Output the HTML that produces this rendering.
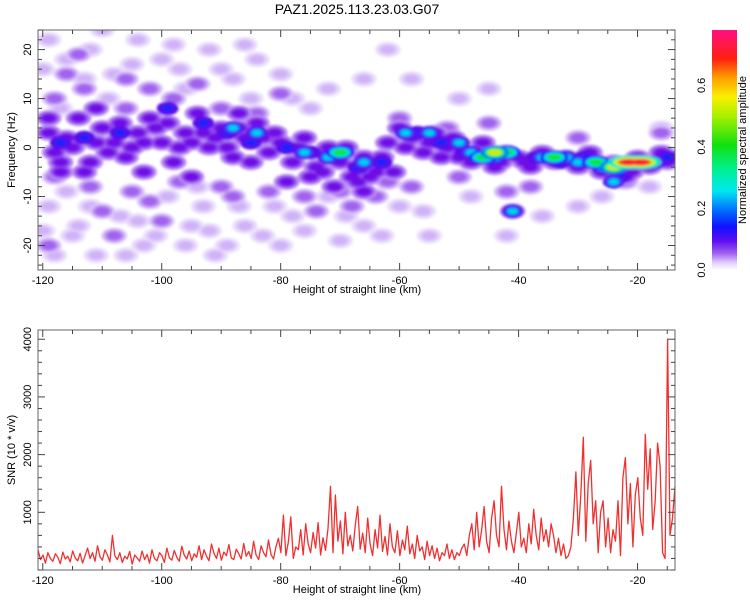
<!DOCTYPE html>
<html><head><meta charset="utf-8"><style>
body{margin:0;background:#fff;}
svg{display:block;font-family:"Liberation Sans",sans-serif;}
</style></head><body>
<svg id="chart" width="750" height="600" viewBox="0 0 750 600">
<defs>
<linearGradient id="cbgrad" x1="0" y1="1" x2="0" y2="0">
<stop offset="0" stop-color="#ffffff"/><stop offset="0.03" stop-color="#e2d0fb"/><stop offset="0.07" stop-color="#a060f0"/>
<stop offset="0.12" stop-color="#6010f0"/><stop offset="0.18" stop-color="#1010ff"/><stop offset="0.25" stop-color="#0070ff"/>
<stop offset="0.33" stop-color="#00e8f0"/><stop offset="0.42" stop-color="#00f090"/><stop offset="0.52" stop-color="#10e010"/>
<stop offset="0.64" stop-color="#a8f000"/><stop offset="0.72" stop-color="#f8f000"/><stop offset="0.8" stop-color="#ffa000"/>
<stop offset="0.88" stop-color="#ff2010"/><stop offset="1" stop-color="#ff1080"/>
</linearGradient>
<clipPath id="clipTop"><rect x="38" y="30" width="637" height="240"/></clipPath>
<clipPath id="clipBot"><rect x="38" y="330" width="637" height="240"/></clipPath>
<filter id="soft"><feGaussianBlur stdDeviation="1.2"/></filter>
</defs>
<text x="357" y="14" font-size="14" text-anchor="middle">PAZ1.2025.113.23.03.G07</text>
<g id="heat" clip-path="url(#clipTop)" filter="url(#soft)"></g>
<g id="topAxes"></g>
<g id="snrG" clip-path="url(#clipBot)"></g>
<g id="botAxes"></g>
<rect x="712" y="30" width="25" height="240" fill="url(#cbgrad)"/>
<g id="cbAxis"></g>
<text transform="translate(746,150) rotate(-90)" font-size="11" text-anchor="middle">Normalized spectral amplitude</text>
<text transform="translate(15,150) rotate(-90)" font-size="11" text-anchor="middle">Frequency (Hz)</text>
<text x="357" y="293" font-size="11" text-anchor="middle">Height of straight line (km)</text>
<text transform="translate(15,450) rotate(-90)" font-size="11" text-anchor="middle">SNR (10 * v/v)</text>
<text x="357" y="593" font-size="11" text-anchor="middle">Height of straight line (km)</text>
</svg>
<script>
const xTicks=[-120,-100,-80,-60,-40,-20];
const freqTicks=[-20,-10,0,10,20];
const snrTicks=[1000,2000,3000,4000];
const cbTicks=[0.0,0.2,0.4,0.6];
const faintBlobs=[[-119,22],[-116,18],[-112,20],[-108,15],[-104,22],[-100,18],[-96,12],[-92,20],[-88,14],[-84,18],[-78,10],[-72,12],[-66,14],[-62,20],[-58,14],[-119,-12],[-115,-18],[-111,-22],[-107,-14],[-103,-20],[-99,-10],[-95,-16],[-91,-22],[-87,-12],[-83,-18],[-78,-14],[-72,-10],[-66,-16],[-60,-12],[-55,-18],[-42,-18],[-30,-12],[-50,10],[-45,12],[-117,8],[-114,-16],[-109,10],[-101,-18],[-97,16],[-93,-12],[-89,-20],[-85,10],[-81,-12],[-75,8],[-69,-14],[-63,-18],[-118,-22],[-106,-22],[-94,-8],[-113,14],[-120,16],[-110,24],[-105,17],[-98,21],[-90,16],[-86,21],[-80,15],[-120,-17],[-116,-9],[-112,-12],[-104,-15],[-96,-20],[-92,-17],[-86,-16],[-80,-20],[-76,-17],[-70,-19],[-56,-13],[-48,-10],[-36,-14],[-26,-10],[-18,-8],[-16,4]];
const faintAmp=0.03;
const mediumBlobs=[[-118,10],[-113,12],[-106,8],[-98,10],[-90,8],[-84,7],[-118,-6],[-112,-8],[-105,-9],[-97,-7],[-90,-8],[-82,-9],[-76,-10],[-70,-9],[-64,-10],[-58,-8],[-50,-6],[-45,5],[-38,-8],[-30,2],[-22,-7],[-110,-13],[-100,-15],[-116,15],[-108,-18],[-102,12],[-94,13],[-80,11],[-74,-13],[-60,6],[-52,4],[-42,-9],[-16,3],[-114,19],[-106,14],[-119,-20],[-102,-11],[-88,-10],[-68,-12],[-62,-7]];
const mediumAmp=0.055;
const ridgeBlobs=[[-119,3],[-118,-1],[-116,2],[-114,6],[-112,-3],[-110,4],[-108,1],[-106,-2],[-104,3],[-102,6],[-100,1],[-98,-3],[-96,3],[-94,7],[-92,0],[-90,4],[-88,-2],[-86,2],[-84,5],[-82,-1],[-80,1],[-78,-3],[-76,2],[-74,-4],[-72,0],[-70,-3],[-68,-6],[-66,-2],[-64,-5],[-62,1],[-60,4],[-58,2],[-56,-1],[-54,3],[-52,0],[-50,-2],[-48,-3],[-46,1],[-44,-4],[-42,-1],[-40,-2],[-38,-4],[-36,-1],[-34,-3],[-32,-2],[-30,-4],[-28,-1],[-26,-5],[-24,-3],[-22,-6],[-20,-2],[-18,-4],[-16,-1],[-14,-2],[-41,-13],[-117,-5],[-111,8],[-103,-5],[-95,-6],[-87,7],[-79,-7],[-71,-8],[-66,-9],[-115,0],[-109,-1],[-101,4],[-91,2],[-83,2],[-73,-5],[-65,-6],[-119,6],[-113,-5],[-107,5],[-105,0],[-99,5],[-97,0],[-93,3],[-89,0],[-85,-3],[-81,3],[-77,0],[-75,-6],[-69,0],[-67,-7],[-63,-2],[-61,-5],[-59,0],[-55,1],[-53,-2],[-51,2],[-47,-1],[-43,-3],[-39,-3],[-35,-2],[-31,-3],[-27,-3],[-23,-4],[-21,-5],[-19,-3],[-15,-3],[-117,-3],[-111,1],[-103,1],[-95,1],[-87,4]];
const ridgeAmp=0.09;
const blueBlobs=[[-117,1],[-113,2],[-107,3],[-99,8],[-93,5],[-89,3],[-85,1],[-79,0],[-75,-1],[-71,-2],[-67,-4],[-63,-3],[-57,3],[-53,1],[-49,-1],[-45,-2],[-41,-13],[-37,-2],[-33,-3],[-29,-2],[-25,-4],[-23,-6],[-17,-3],[-15,-2]];
const blueAmp=0.15;
const cyanBlobs=[[-88,4],[-84,3],[-76,-1],[-72,-2],[-66,-3],[-59,3],[-55,3],[-50,1],[-44,-2],[-36,-2],[-30,-3],[-26,-4],[-24,-7],[-41,-13],[-48,-1],[-32,-2]];
const cyanAmp=0.25;
const greenBlobs=[[-70,-1],[-42,-1],[-34,-2],[-27,-3],[-46,-2]];
const greenAmp=0.38;
const yellowBlobs=[[-44,-1],[-24,-4]];
const yellowAmp=0.5;
const redBlobs=[[-21.5,-3],[-19.5,-3]];
const redAmp=0.72;
const snr=[350,180,260,120,300,200,150,280,220,110,310,190,240,140,330,210,160,290,120,250,
380,200,300,150,420,230,170,350,260,140,600,250,180,300,130,240,190,320,100,260,
210,150,330,180,270,120,350,200,160,300,250,130,380,210,170,340,220,150,410,260,
190,330,160,280,220,420,180,350,240,160,450,290,200,380,170,310,250,440,210,180,
360,280,190,460,240,320,200,500,260,180,420,300,230,520,270,190,400,
550,300,950,250,480,920,200,400,350,700,260,800,450,300,650,380,820,260,560,340,
720,1450,300,1300,500,850,280,1000,420,600,330,780,1100,360,640,300,900,450,250,700,
380,950,320,580,260,800,400,300,680,250,520,350,760,280,450,200,600,330,400,180,
500,250,420,200,380,160,300,250,450,200,350,180,300,250,380,
450,250,600,800,350,1000,400,700,1100,500,300,900,1200,600,400,1450,700,350,850,500,
300,650,1000,400,550,300,800,450,1050,600,350,900,500,700,400,800,600,300,550,250,450,200,
250,400,900,1700,600,1300,2300,500,1500,1900,800,1200,300,1000,1200,400,900,300,700,500,
1200,250,1600,1950,800,1500,400,1300,1600,900,600,2350,1400,2100,700,1200,2200,1800,300,200,
4000,600,900,1450];
const xDomain=[-120.8,-13.7];

const NS='http://www.w3.org/2000/svg';
const PL=38,PR=675;
const X=v=>PL+(v-xDomain[0])/(xDomain[1]-xDomain[0])*(PR-PL);
const YF=v=>30+(24-v)/49*240;
const YS=v=>570-v/4160*240;
const YC=v=>270-v/0.78*240;
function mk(tag,attrs,parent){const e=document.createElementNS(NS,tag);for(const k in attrs)e.setAttribute(k,attrs[k]);parent.appendChild(e);return e;}
const cstops=[[0,[255,255,255]],[0.02,[228,212,251]],[0.05,[168,110,240]],[0.09,[112,16,230]],[0.14,[30,16,250]],[0.19,[0,100,255]],[0.26,[0,225,235]],[0.33,[0,240,144]],[0.4,[16,224,16]],[0.5,[200,240,0]],[0.56,[248,240,0]],[0.62,[255,160,0]],[0.69,[255,32,16]],[0.78,[255,16,128]]];
function cmap(v){for(let i=1;i<cstops.length;i++){if(v<=cstops[i][0]){const a=cstops[i-1],b=cstops[i];const t=(v-a[0])/(b[0]-a[0]);const c=a[1].map((q,j)=>Math.round(q+(b[1][j]-q)*t));return 'rgb('+c.join(',')+')';}}return 'rgb(255,16,128)';}
const heat=document.getElementById('heat');
const groups=[[faintBlobs,faintAmp],[mediumBlobs,mediumAmp],[ridgeBlobs,ridgeAmp],[blueBlobs,blueAmp],[cyanBlobs,cyanAmp],[greenBlobs,greenAmp],[yellowBlobs,yellowAmp],[redBlobs,redAmp]];
groups.forEach(([blobs,amp])=>{
  const bright=amp>0.12;
  const layers=bright?[[Math.max(amp*0.4,0.1),11,7],[amp*0.7,8,5],[amp,5.5,3.2]]:[[amp*0.45,13,8],[amp*0.75,10,6],[amp,7,4.2]];
  layers.forEach(([c,rx,ry])=>{
    blobs.forEach(b=>{
      const wide=amp>0.6?1.9:(amp>0.3?1.3:1);
      const e=mk('ellipse',{cx:X(b[0]),cy:YF(b[1]),rx:rx*wide,ry:ry,fill:cmap(c)},heat);
      
      
    });
  });
});
const snrG=document.getElementById('snrG');
const step=(xDomain[1]-xDomain[0])/(snr.length-1);
const pts=snr.map((v,i)=>X(xDomain[0]+i*step).toFixed(1)+','+YS(v).toFixed(1)).join(' ');
const pl=mk('polyline',{points:pts,fill:'none',stroke:'#f03030','stroke-width':1.3,'stroke-linejoin':'round'},snrG);


function axes(gid,top,yfn,yMajor,yMinorStep,yMin,yMax){
  const g=document.getElementById(gid);
  const fr=mk('rect',{x:PL,y:top,width:PR-PL,height:240,fill:'none',stroke:'#666','stroke-width':1},g);
  
  
  const bot=top+240;
  for(let v=-120;v<=-15;v+=5){
    const x=X(v),L=(v%20===0)?7:4;
    mk('line',{x1:x,y1:bot,x2:x,y2:bot-L,stroke:'#444'},g);
    mk('line',{x1:x,y1:top,x2:x,y2:top+L,stroke:'#444'},g);
  }
  xTicks.forEach(v=>{
    const t=mk('text',{x:X(v),y:bot+14,'font-size':11,'text-anchor':'middle'},g);
    t.textContent=v;
    
    
  });
  for(let v=yMin;v<=yMax;v+=yMinorStep){
    const y=yfn(v);if(y<top-0.5||y>bot+0.5)continue;
    const L=yMajor.includes(v)?7:4;
    mk('line',{x1:PL,y1:y,x2:PL+L,y2:y,stroke:'#444'},g);
    mk('line',{x1:PR,y1:y,x2:PR-L,y2:y,stroke:'#444'},g);
  }
  yMajor.forEach(v=>{
    const y=yfn(v);
    const t=mk('text',{transform:'translate(31,'+y+') rotate(-90)','font-size':11,'text-anchor':'middle'},g);
    t.textContent=v;
    
    
  });
}
axes('topAxes',30,YF,freqTicks,2,-24,24);
axes('botAxes',330,YS,snrTicks,200,0,4200);
const cb=document.getElementById('cbAxis');
cbTicks.forEach(v=>{
  const y=YC(v);
  const t=mk('text',{transform:'translate(705,'+y+') rotate(-90)','font-size':11,'text-anchor':'middle'},cb);
  t.textContent=v.toFixed(1);
  
  
});
</script>
</body></html>
